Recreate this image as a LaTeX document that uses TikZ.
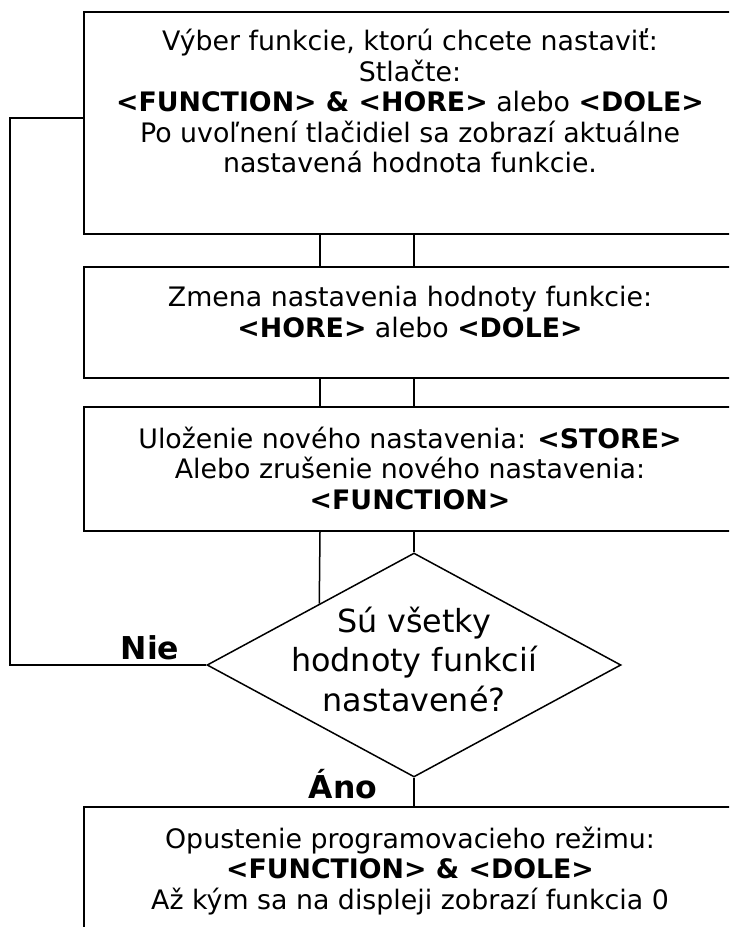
\documentclass[tikz,border=0pt]{standalone}
\usepackage{fontspec}
\setmainfont{DejaVu Sans}
\usetikzlibrary{shapes.geometric,calc}
\begin{document}
\begin{tikzpicture}[x=1pt,y=-1pt,
  box/.style={draw,rectangle,line width=2pt,minimum width=652pt,inner sep=0pt},
  txt/.style={align=center,font=\fontsize{26.8}{30.5}\selectfont,inner sep=0pt},
  dtxt/.style={align=center,font=\fontsize{31.8}{39.5}\selectfont,inner sep=0pt},
  link/.style={line width=1.5pt},
  lbl/.style={font=\fontsize{31.5}{36}\selectfont\bfseries,inner sep=0pt,anchor=base}]
\useasboundingbox (0,0) rectangle (729,927);
\clip (0,0) rectangle (729,927);
\fill[white] (0,0) rectangle (729,927);
% boxes
\node[box,minimum height=222pt] (b1) at (410,123) {};
\node[box,minimum height=111pt] (b2) at (410,322.5) {};
\node[box,minimum height=124pt] (b3) at (410,469) {};
\node[box,minimum height=154pt] (b4) at (410,884) {};
\node[draw,diamond,link,minimum width=414pt,minimum height=224pt,inner sep=0pt] (d) at (414,665) {};
% texts
\node[txt] (t1) at (410,101) {Výber funkcie, ktorú chcete nastaviť:\\Stlačte:\\\textbf{<FUNCTION> \& <HORE>} alebo \textbf{<DOLE>}\\Po uvoľnení tlačidiel sa zobrazí aktuálne\\nastavená hodnota funkcie.};
\node[txt] (t2) at (410,312) {Zmena nastavenia hodnoty funkcie:\\\textbf{<HORE>} alebo \textbf{<DOLE>}};
\node[txt] (t3) at (410,468) {Uloženie nového nastavenia: \textbf{<STORE>}\\Alebo zrušenie nového nastavenia:\\\textbf{<FUNCTION>}};
\node[txt] (t4) at (410,871) {Opustenie programovacieho režimu:\\\textbf{<FUNCTION> \& <DOLE>}\\Až kým sa na displeji zobrazí funkcia 0};
\node[dtxt] (td) at (414,659) {Sú všetky\\hodnoty funkcií\\nastavené?};
\node[lbl] (nie) at (150,659) {Nie};
\node[lbl] (ano) at (343,798) {Áno};
% connectors
\coordinate (cl) at (320,0);
\coordinate (cr) at (414,0);
\coordinate (lp) at (10,118);
\draw[link] (b1.south -| cl) -- (b2.north -| cl);
\draw[link] (b1.south -| cr) -- (b2.north -| cr);
\draw[link] (b2.south -| cl) -- (b3.north -| cl);
\draw[link] (b2.south -| cr) -- (b3.north -| cr);
\draw[link] (b3.south -| cl) -- ($(d.north)!0.456!(d.west)$);
\draw[link] (b3.south -| cr) -- (d.north);
\draw[link] (d.south) -- (b4.north -| d.south);
\draw[link] (d.west) -| (lp) -- (lp -| b1.west);
\end{tikzpicture}
\end{document}
